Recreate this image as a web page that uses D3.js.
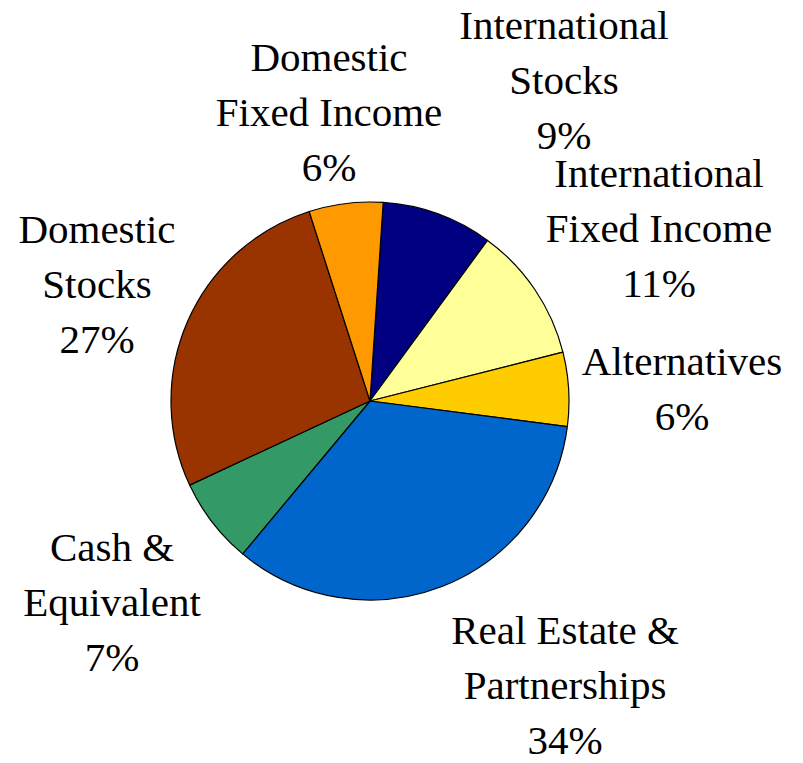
<!DOCTYPE html>
<html>
<head>
<meta charset="utf-8">
<script src="https://d3js.org/d3.v7.min.js"></script>
<style>
  svg, svg text { font-family: "Times New Roman", "Liberation Serif", Times, serif; }
</style>
</head>
<body style="margin:0">
<svg width="803" height="763" font-family="Liberation Serif, Times New Roman, serif"></svg>
<script>
// slices, clockwise from the top
var names = ["International Stocks", "International Fixed Income", "Alternatives",
             "Real Estate & Partnerships", "Cash & Equivalent", "Domestic Stocks",
             "Domestic Fixed Income"];
var shares = [9, 11, 6, 34, 7, 27, 6];
var colors = ["#000080", "#ffff99", "#ffcc00", "#0066cc", "#339966", "#993300", "#ff9900"];
var labelLines = [["International", "Stocks"], ["International", "Fixed Income"], ["Alternatives"],
                  ["Real Estate &", "Partnerships"], ["Cash &", "Equivalent"], ["Domestic", "Stocks"],
                  ["Domestic", "Fixed Income"]];

// where each label block sits (centre x, first baseline)
var labelSpots = [[564, 39], [659, 187], [682, 375], [565, 644], [112, 561], [97, 243], [329, 71]];

var cx = 370, cy = 401, radius = 199, lineH = 55;
var startDeg = 3.8;

var svg = d3.select("svg");
var g = svg.append("g").attr("transform", "translate(" + cx + "," + cy + ")");

var pie = d3.pie().sort(null)
  .startAngle(startDeg * Math.PI / 180)
  .endAngle((startDeg + 360) * Math.PI / 180)
  .value(function(d) { return d; });

var arc = d3.arc().innerRadius(0).outerRadius(radius);

g.selectAll("path")
  .data(pie(shares))
  .enter()
  .append("path")
  .attr("d", arc)
  .attr("fill", function(d, i) { return colors[i]; })
  .attr("stroke", "#000")
  .attr("stroke-width", 1.2)
  .attr("stroke-linejoin", "round");

// one text element per line
var rows = [];
names.forEach(function(n, i) {
  labelLines[i].concat([shares[i] + "%"]).forEach(function(s, k) {
    rows.push({ s: s, x: labelSpots[i][0], y: labelSpots[i][1] + k * lineH });
  });
});

svg.selectAll("text")
  .data(rows)
  .enter()
  .append("text")
  .attr("x", function(d) { return d.x; })
  .attr("y", function(d) { return d.y; })
  .attr("text-anchor", "middle")
  .attr("font-family", "Times New Roman, Liberation Serif, serif")
  .style("font-size", "41px")
  .text(function(d) { return d.s; });
</script>
</body>
</html>
